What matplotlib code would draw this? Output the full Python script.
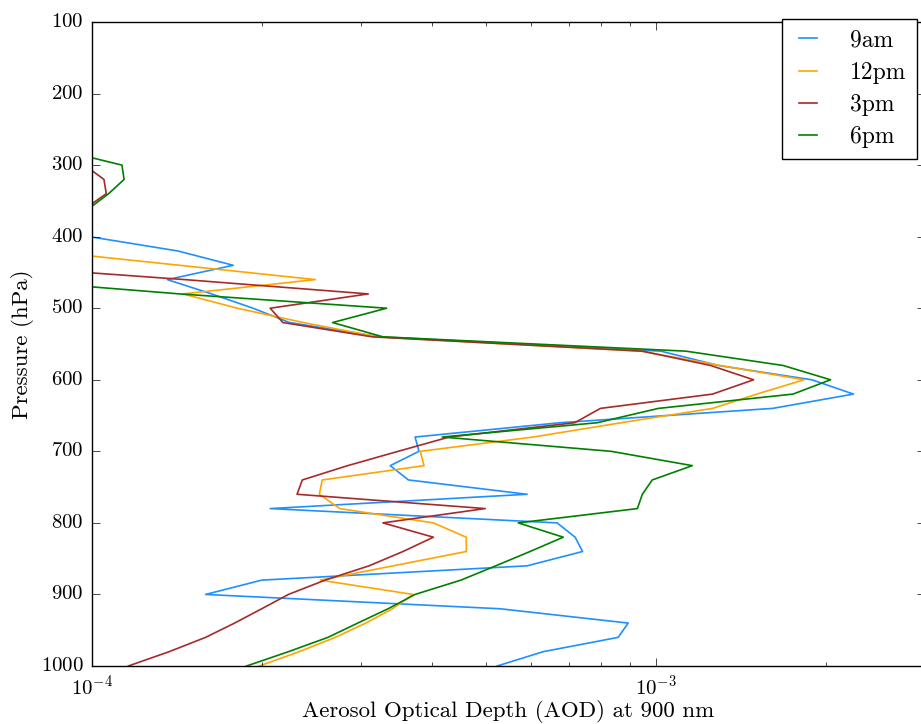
import matplotlib
matplotlib.use("Agg")
import matplotlib.pyplot as plt
import numpy as np

plt.style.use("classic")
plt.rcParams["font.family"] = ["cmr10", "DejaVu Serif"]
plt.rcParams["mathtext.fontset"] = "cm"
plt.rcParams["axes.formatter.use_mathtext"] = True
plt.rcParams["axes.unicode_minus"] = False

# pressure levels (hPa) and AOD at 900 nm for each time of day
p_9am = [400, 420, 440, 460, 480, 500, 520, 540, 560, 580, 600, 620, 640, 660, 680,
         700, 720, 740, 760, 780, 800, 820, 840, 860, 880, 900, 920, 940, 960, 980, 1000]
aod_9am = [0.99e-4, 1.42e-4, 1.78e-4, 1.36e-4, 1.63e-4, 1.93e-4, 2.24e-4, 3.24e-4,
           10.2e-4, 12.9e-4, 18.9e-4, 22.4e-4, 16.1e-4, 6.76e-4, 3.74e-4,
           3.80e-4, 3.38e-4, 3.64e-4, 5.91e-4, 2.07e-4, 6.68e-4, 7.19e-4, 7.41e-4,
           5.91e-4, 2.00e-4, 1.59e-4, 5.29e-4, 8.93e-4, 8.57e-4, 6.31e-4, 5.23e-4]

p_12pm = [420, 440, 460, 480, 500, 520, 540, 560, 580, 600, 620, 640, 660, 680,
          700, 720, 740, 760, 780, 800, 820, 840, 860, 880, 900, 920, 940, 960, 980, 1000]
aod_12pm = [0.82e-4, 1.43e-4, 2.49e-4, 1.45e-4, 1.81e-4, 2.37e-4, 3.21e-4,
            9.4e-4, 13.0e-4, 18.3e-4, 15.1e-4, 12.6e-4, 8.68e-4, 6.06e-4,
            3.82e-4, 3.88e-4, 2.56e-4, 2.53e-4, 2.75e-4, 4.03e-4, 4.61e-4, 4.61e-4,
            3.42e-4, 2.54e-4, 3.71e-4, 3.41e-4, 3.06e-4, 2.70e-4, 2.33e-4, 1.98e-4]

p_3pm = [300, 320, 340, 360, 380, 400, 420, 440, 460, 480, 500, 520, 540, 560, 580,
         600, 620, 640, 660, 680, 700, 720, 740, 760, 780, 800, 820, 840, 860, 880,
         900, 920, 940, 960, 980, 1000]
aod_3pm = [0.97e-4, 1.05e-4, 1.06e-4, 0.975e-4, 0.6e-4, 0.6e-4, 0.6e-4, 0.65e-4,
           1.46e-4, 3.09e-4, 2.07e-4, 2.18e-4, 3.14e-4, 9.46e-4, 12.5e-4,
           14.9e-4, 12.6e-4, 7.97e-4, 7.18e-4, 4.30e-4, 3.49e-4, 2.84e-4, 2.36e-4,
           2.31e-4, 4.98e-4, 3.28e-4, 4.03e-4, 3.56e-4, 3.10e-4, 2.59e-4,
           2.23e-4, 2.00e-4, 1.79e-4, 1.59e-4, 1.37e-4, 1.16e-4]

p_6pm = [280, 300, 320, 340, 360, 380, 400, 420, 440, 460, 480, 500, 520, 540, 560,
         580, 600, 620, 640, 660, 680, 700, 720, 740, 760, 780, 800, 820, 840, 860,
         880, 900, 920, 940, 960, 980, 1000]
aod_6pm = [0.89e-4, 1.13e-4, 1.14e-4, 1.07e-4, 0.99e-4, 0.6e-4, 0.6e-4, 0.6e-4,
           0.6e-4, 0.69e-4, 1.43e-4, 3.33e-4, 2.67e-4, 3.28e-4, 11.3e-4,
           16.8e-4, 20.4e-4, 17.5e-4, 10.1e-4, 7.87e-4, 4.18e-4, 8.33e-4, 11.6e-4,
           9.85e-4, 9.46e-4, 9.27e-4, 5.70e-4, 6.85e-4, 5.98e-4, 5.20e-4,
           4.51e-4, 3.74e-4, 3.35e-4, 2.96e-4, 2.62e-4, 2.23e-4, 1.88e-4]

fig = plt.figure(figsize=(9.21, 7.24), dpi=100)
ax = fig.add_axes([92/921, 58/724, 833/921, 644/724])

ax.plot(aod_9am, p_9am, color="dodgerblue", lw=1.2, label="9am")
ax.plot(aod_12pm, p_12pm, color="orange", lw=1.2, label="12pm")
ax.plot(aod_3pm, p_3pm, color="brown", lw=1.2, label="3pm")
ax.plot(aod_6pm, p_6pm, color="green", lw=1.2, label="6pm")

ax.set_xscale("log")
ax.set_xlim(1e-4, 3e-3)
ax.set_ylim(1000, 100)
ax.set_yticks(np.arange(100, 1001, 100))
ax.tick_params(which="major", length=6, labelsize=15, pad=6)
ax.tick_params(which="minor", length=3)
ax.set_xlabel("Aerosol Optical Depth (AOD) at 900 nm", fontsize=16.5, labelpad=1)
ax.set_ylabel("Pressure (hPa)", fontsize=16.5)
ax.legend(loc="upper right", bbox_to_anchor=(917/921, 1 - 19/724),
          bbox_transform=fig.transFigure, borderaxespad=0, fontsize=17,
          handlelength=1.35, labelspacing=0.42, handletextpad=1.1, borderpad=0.45)

fig.savefig("out.png", dpi=100)
